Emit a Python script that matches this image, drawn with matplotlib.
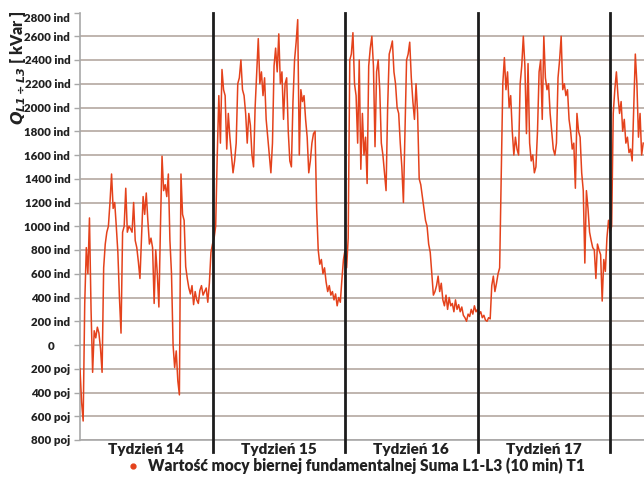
import matplotlib
matplotlib.use("Agg")
import matplotlib.pyplot as plt
import numpy as np
from matplotlib.lines import Line2D
from matplotlib.transforms import ScaledTranslation

plt.rcParams["font.family"] = ["Lato", "DejaVu Sans"]

# Reactive power, sum of L1-L3, sampled every 2 hours (positive = inductive, negative = capacitive)
STEP_H = 2
HOURS_PER_WEEK = 168

week_labels = ["Tydzień 14", "Tydzień 15", "Tydzień 16", "Tydzień 17"]

q_week14 = [
    -200, -480, -640, 350, 820, 600, 1070, 300, -230, 120, 60, 150,
    100, -30, -230, 650, 850, 950, 1000, 1200, 1440, 1150, 1200, 1000,
    780, 400, 100, 950, 1000, 1320, 950, 1000, 980, 950, 1200, 880,
    820, 700, 560, 900, 1250, 1100, 1280, 1050, 850, 900, 820, 350,
    800, 600, 320, 1000, 1590, 1300, 1350, 1250, 1440, 880, 600, 0,
    -190, -50, -300, -420, 1440, 1100, 1050, 660, 560, 480, 430, 500,
    340, 450, 380, 350, 460, 500, 420, 450, 480, 360, 520, 780,
]
q_week15 = [
    850, 900, 1000, 1600, 2100, 1700, 2320, 2150, 2100, 1650, 1950, 1750,
    1600, 1450, 1550, 1700, 2200, 2250, 2400, 2150, 2100, 1950, 1700, 1950,
    1850, 1600, 1500, 2000, 2300, 2580, 2200, 2300, 2100, 2250, 1900, 1750,
    1600, 1450, 1700, 2350, 2500, 2300, 2620, 2200, 2300, 1900, 2200, 2250,
    1800, 1550, 1500, 2050, 2400, 2550, 2740, 1600, 2150, 2050, 2100, 1900,
    1750, 1450, 1550, 1700, 1780, 1800, 1150, 800, 680, 720, 600, 650,
    530, 450, 500, 420, 450, 380, 430, 330, 400, 360, 550, 720,
]
q_week16 = [
    800, 650, 900, 2400, 2450, 2630, 2200, 2100, 1700, 2400, 1480, 1950,
    1600, 1750, 1360, 2350, 2500, 2600, 2350, 1670, 2300, 2400, 2150, 1700,
    1600, 1450, 1300, 2000, 2450, 2500, 2560, 2300, 2200, 2000, 1950, 1700,
    1500, 1200, 1780, 2400, 2450, 2550, 2250, 2050, 1900, 2200, 1950, 1400,
    1350, 1250, 1150, 1050, 1000, 850, 780, 600, 420, 450, 500, 580,
    450, 520, 380, 330, 420, 300, 400, 330, 350, 280, 380, 300,
    340, 280, 320, 250, 230, 200, 260, 240, 300, 260, 330, 280,
]
q_week17 = [
    300, 260, 280, 230, 250, 210, 200, 230, 220, 500, 580, 450,
    520, 600, 650, 1400, 2200, 2420, 2150, 2300, 2000, 2100, 1800, 1600,
    1750, 1650, 1600, 2200, 2350, 2600, 2350, 1780, 2370, 1700, 1550, 1600,
    1450, 1500, 1800, 2300, 2400, 1900, 2600, 2250, 2150, 2200, 1950, 1800,
    1650, 1600, 1700, 2250, 2400, 2600, 2150, 2200, 2100, 2150, 1900, 1800,
    1650, 1700, 1320, 1950, 1800, 1750, 1450, 1300, 690, 1300, 1150, 950,
    880, 820, 800, 560, 850, 800, 760, 370, 720, 620, 900, 1050,
]
q_week18 = [
    950, 1000, 1950, 2150, 2300, 2100, 1950, 2050, 1800, 1900, 1700,
    1750, 1620, 1650, 1550, 2000, 2450, 2200, 1750, 1950, 1600, 1700,
]

y_ticks = list(range(-800, 2801, 200))


def tick_text(v):
    if v > 0:
        return f"{v} ind"
    if v < 0:
        return f"{-v} poj"
    return "0"


q = np.concatenate([q_week14, q_week15, q_week16, q_week17, q_week18])
t = np.arange(len(q)) * STEP_H

W, H = 644, 479
fig = plt.figure(figsize=(W / 100, H / 100), dpi=100)
fig.patch.set_facecolor("white")
ax = fig.add_axes([80 / W, 39 / H, 1 - 80 / W, (440 - 12.5) / H])

series_color = "#e4421c"
ax.plot(t, q, color=series_color, lw=1.1, zorder=3)

ax.set_xlim(0, 715)
ax.set_ylim(-800, 2800)
ax.set_xticks([])
ax.set_yticks(y_ticks, [tick_text(v) for v in y_ticks])
ax.grid(axis="y", color="#bfb4ae", lw=1.4)
ax.set_axisbelow(True)

for s in ("top", "right"):
    ax.spines[s].set_visible(False)
ax.spines["left"].set_color("#a8a8a8")
ax.spines["bottom"].set_color("#a8a8a8")
ax.spines["left"].set_linewidth(1.2)
ax.spines["bottom"].set_linewidth(1.2)
ax.tick_params(axis="y", length=4, width=1.0, color="#a8a8a8",
               labelsize=8.3, pad=3, labelcolor="#222222")
for lab in ax.get_yticklabels():
    lab.set_fontweight("heavy")

# top grid line is not drawn; nudge a couple of labels
ticks = ax.yaxis.get_major_ticks()
ticks[-1].gridline.set_visible(False)
top_lab = ticks[-1].label1
top_lab.set_transform(top_lab.get_transform() + ScaledTranslation(0, -0.05, fig.dpi_scale_trans))
zero_lab = ticks[y_ticks.index(0)].label1
zero_lab.set_transform(zero_lab.get_transform() + ScaledTranslation(-0.16, 0, fig.dpi_scale_trans))

# week separators, reaching below the axis
drop = 12 / (440 - 12.5)
for k in range(1, 5):
    ax.add_line(Line2D([k * HOURS_PER_WEEK] * 2, [-drop, 1.0],
                       transform=ax.get_xaxis_transform(), color="#1c1c1c",
                       lw=2.0, clip_on=False, zorder=4))

for k, name in enumerate(week_labels):
    ax.text((k + 0.5) * HOURS_PER_WEEK, -9 / (440 - 12.5), name,
            transform=ax.get_xaxis_transform(), ha="center", va="center",
            fontsize=11, fontweight="heavy", color="#222222")

# legend entry
fig.add_artist(Line2D([133 / W], [1 - 466 / H], marker="o", ms=3.5,
                      color=series_color, transform=fig.transFigure))
fig.text(148 / W, 1 - 466 / H,
         "Wartość mocy biernej fundamentalnej Suma L1-L3 (10 min) T1",
         ha="left", va="center", fontsize=11.2, fontweight="heavy", color="#222222")

fig.text(18 / W, 1 - 68 / H, r"$\mathbfit{Q}_{\mathbfit{L1\div L3}}$ [ kVar ]",
         rotation=90, ha="center", va="center", fontsize=11.5,
         fontweight="heavy", color="#222222")

fig.savefig("out.png", dpi=100)
